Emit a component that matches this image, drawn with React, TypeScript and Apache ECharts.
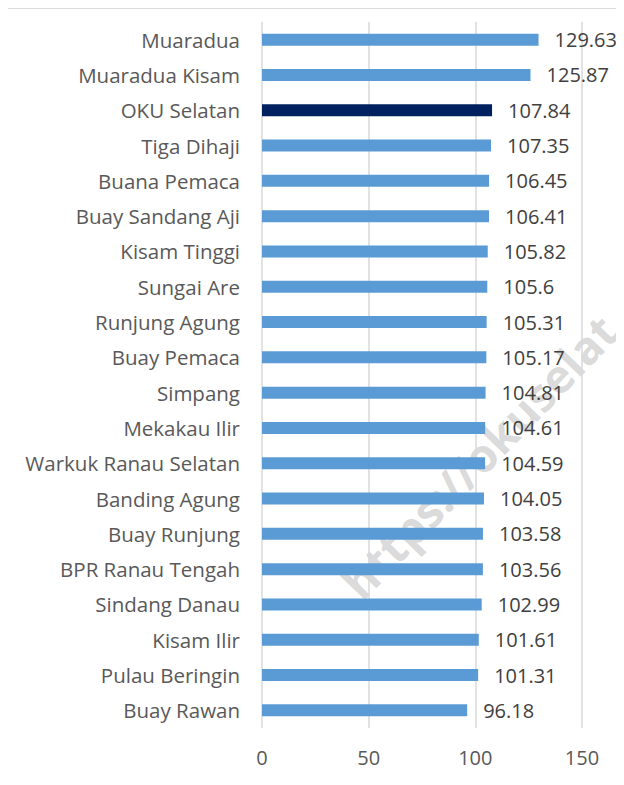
import React, { useEffect, useRef } from "react";
import * as echarts from "echarts";

const categories = [
  "Muaradua",
  "Muaradua Kisam",
  "OKU Selatan",
  "Tiga Dihaji",
  "Buana Pemaca",
  "Buay Sandang Aji",
  "Kisam Tinggi",
  "Sungai Are",
  "Runjung Agung",
  "Buay Pemaca",
  "Simpang",
  "Mekakau Ilir",
  "Warkuk Ranau Selatan",
  "Banding Agung",
  "Buay Runjung",
  "BPR Ranau Tengah",
  "Sindang Danau",
  "Kisam Ilir",
  "Pulau Beringin",
  "Buay Rawan",
];

const values = [
  129.63, 125.87, 107.84, 107.35, 106.45, 106.41, 105.82, 105.6, 105.31, 105.17,
  104.81, 104.61, 104.59, 104.05, 103.58, 103.56, 102.99, 101.61, 101.31, 96.18,
];

const highlighted = "OKU Selatan";
const xTicks = [0, 50, 100, 150];

export default function App() {
  const ref = useRef<HTMLDivElement>(null);

  useEffect(() => {
    if (!ref.current) return;
    const chart = echarts.init(ref.current, undefined, { renderer: "svg" });
    chart.setOption({
      animation: false,
      graphic: [
        {
          type: "text",
          z: 0,
          silent: true,
          x: 366,
          y: 606,
          rotation: (46 * Math.PI) / 180,
          style: {
            text: "https://okuselat",
            fill: "rgba(160,160,160,0.4)",
            font: "bold 46px 'Open Sans', sans-serif",
            textVerticalAlign: "bottom",
          },
        },
        {
          type: "line",
          z: 100,
          silent: true,
          shape: { x1: 4, y1: 8, x2: 4, y2: 785 },
          style: { stroke: "#cfcfcf", lineWidth: 1.5 },
        },
        {
          type: "line",
          z: 100,
          silent: true,
          shape: { x1: 4, y1: 8, x2: 624, y2: 8 },
          style: { stroke: "#cfcfcf", lineWidth: 1.5 },
        },
      ],
      grid: { left: 262, right: 42, top: 22, bottom: 57, containLabel: false },
      xAxis: {
        type: "value",
        min: xTicks[0],
        max: xTicks[xTicks.length - 1],
        interval: 50,
        axisLine: { show: false },
        axisTick: { show: false },
        splitLine: { show: true, lineStyle: { color: "#d9d9d9", width: 1.5 } },
        axisLabel: {
          color: "#595959",
          fontFamily: "'Open Sans', sans-serif",
          fontSize: 20,
          margin: 19,
        },
      },
      yAxis: {
        type: "category",
        data: categories,
        inverse: true,
        axisLine: { show: false },
        axisTick: { show: false },
        axisLabel: {
          color: "#595959",
          fontFamily: "'Open Sans', sans-serif",
          fontSize: 20.5,
          margin: 22,
        },
      },
      series: [
        {
          type: "bar",
          barWidth: 12,
          z: 5,
          data: values.map((v, i) => ({
            value: v,
            itemStyle: {
              color: categories[i] === highlighted ? "#002060" : "#5b9bd5",
            },
          })),
          label: {
            show: true,
            position: "right",
            distance: 16,
            color: "#404040",
            fontFamily: "'Open Sans', sans-serif",
            fontSize: 20,
            formatter: (p: any) => String(p.value),
          },
        },
      ],
    });
    return () => chart.dispose();
  }, []);

  return <div ref={ref} style={{ width: 624, height: 785, margin: -8 }} />;
}
